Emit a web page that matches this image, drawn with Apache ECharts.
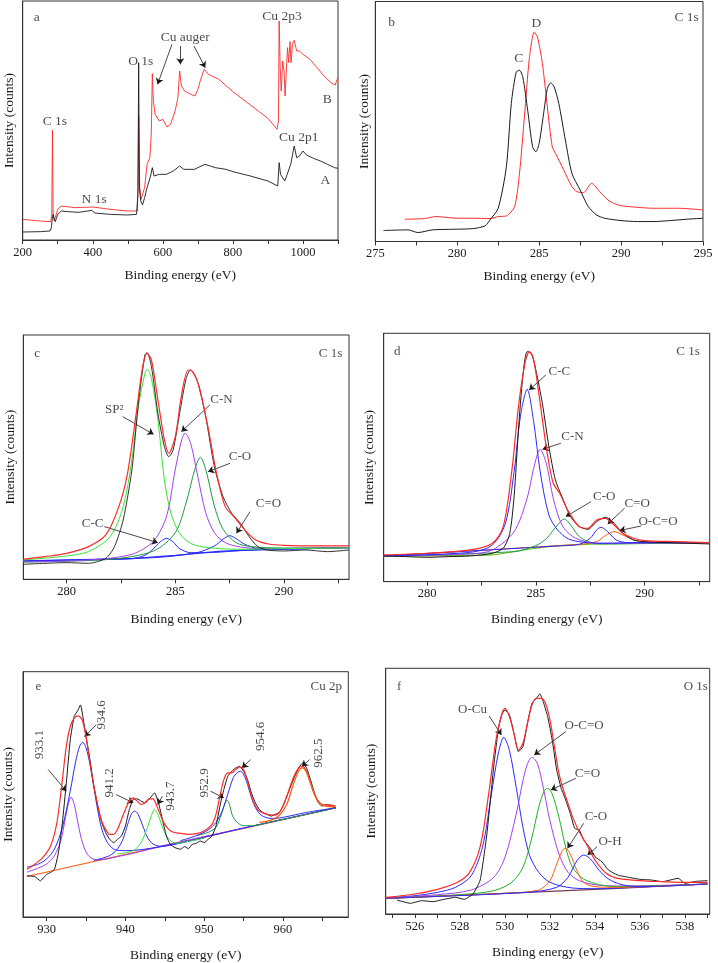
<!DOCTYPE html>
<html><head><meta charset="utf-8">
<script src="https://cdn.jsdelivr.net/npm/echarts@6/dist/echarts.min.js"></script>
<style>html,body{margin:0;padding:0;background:#fff}#c{width:718px;height:963px}</style>
</head><body><div id="c"></div><script>
// ---------- Panel a : survey ----------
const aA = [[200,24],[250,25],[278,27],[282,37],[284,62],[287,77],[290,62],[293,55],[300,77],[310,87],[330,85],[360,83],[398,89],[405,81],[450,77],[500,75],[525,77],[529,137],[531,532],[533,157],[537,117],[542,105],[548,127],[555,157],[565,192],[570,217],[575,192],[590,197],[610,197],[630,207],[648,222],[660,212],[690,212],[720,227],[750,217],[780,212],[800,205],[850,192],[900,177],[928,162],[932,232],[936,197],[940,202],[948,177],[955,197],[965,227],[975,282],[982,247],[990,252],[1000,267],[1010,255],[1030,245],[1050,237],[1070,227],[1090,217],[1100,215]];
const aB = [[200,62],[250,57],[280,55],[283,77],[285,329],[287,77],[290,57],[300,92],[310,102],[350,97],[400,99],[450,92],[500,87],[527,87],[529,157],[531,372],[534,157],[538,122],[543,117],[548,157],[555,227],[563,247],[567,317],[570,499],[573,417],[578,377],[590,357],[600,362],[612,339],[622,347],[635,387],[643,427],[648,507],[653,462],[662,447],[680,437],[692,432],[700,452],[708,482],[718,512],[730,497],[760,482],[800,445],[850,405],[900,365],[926,332],[930,357],[932,657],[935,517],[938,447],[942,537],[946,507],[949,432],[952,497],[956,577],[959,532],[963,595],[966,532],[970,587],[975,599],[982,567],[990,567],[1000,557],[1020,542],[1040,517],[1060,492],[1080,472],[1092,465],[1100,489]];
const aLabels = [['a',240,667],['C 1s',292,357],['N 1s',404,122],['O 1s',537,535],['Cu auger',664,607],['Cu 2p3',940,672],['B',1069,422],['Cu 2p1',988,307],['A',1064,180]];
const aArrows = [[626,587,585,467],[650,582,650,527],[689,582,721,517]];

// ---------- Panel b : C 1s (C, D) ----------
const bC = [[275.5,33],[277,35],[277.6,27],[278.5,35],[280,37],[281,39],[281.7,47],[282,65],[282.5,100],[283,225],[283.3,415],[283.6,510],[283.8,515],[284,495],[284.3,395],[284.6,285],[284.8,270],[285,295],[285.3,395],[285.5,460],[285.7,477],[285.9,467],[286.2,415],[286.6,305],[287,205],[287.5,155],[288,105],[288.5,80],[289,70],[290,63],[291,60],[292,60],[293,63],[294,67],[295,70]];
const bD = [[276.8,67],[278,69],[278.7,75],[280,70],[281,70],[282,69],[282.5,75],[283,77],[283.5,105],[283.8,205],[284.1,375],[284.4,550],[284.7,630],[284.9,615],[285.2,535],[285.5,405],[285.8,285],[286,265],[286.5,215],[287,165],[287.3,150],[287.7,147],[288.2,175],[288.7,150],[289.2,125],[289.8,110],[290.5,105],[292,100],[293.5,100],[295,95]];
const bLabels = [['b',276,660],['C 1s',294,675],['C',283.75,550],['D',284.83,655]];

// ---------- Panel c : C 1s fit ----------
const cRaw = [[278,45],[279,48],[280,50],[281,48],[281.8,63],[282.2,98],[282.6,178],[283,328],[283.3,528],[283.6,673],[283.7,680],[283.9,638],[284.2,498],[284.5,398],[284.7,368],[284.9,388],[285.2,498],[285.5,603],[285.7,628],[286,598],[286.4,488],[286.8,338],[287.2,248],[287.6,198],[288,168],[288.4,128],[288.8,98],[289.2,88],[290,85],[291,88],[292,83],[293,88]];
const cFit = [[278,60],[279,68],[280,78],[281,98],[281.8,133],[282.4,218],[282.8,318],[283.2,498],[283.5,638],[283.7,678],[283.9,658],[284.2,538],[284.5,418],[284.7,378],[285,428],[285.3,558],[285.6,628],[285.8,623],[286.1,578],[286.5,458],[286.9,318],[287.3,218],[287.7,188],[288.2,148],[288.7,118],[289.3,106],[290,102],[291.5,100],[293,100]];
const cBase = [[278,55],[283,62],[285,72],[287,84],[289,90],[293,95]];
const cSp2 = [[278,58],[280,70],[281,83],[282,128],[282.6,218],[283,358],[283.3,518],[283.6,618],[283.7,630],[283.9,603],[284.2,478],[284.5,298],[284.8,198],[285.2,138],[285.7,108],[286.5,95],[288,90],[290,92],[293,94]];
const cCC = [[278,55],[283,62],[283.6,72],[284,92],[284.3,112],[284.6,123],[284.9,112],[285.2,92],[285.7,80],[286.5,80],[288,86],[293,95]];
const cCN = [[278,52],[281,58],[283,75],[284,115],[284.6,190],[285,330],[285.3,420],[285.45,438],[285.7,410],[286,320],[286.4,200],[286.8,140],[287.3,110],[288,97],[289,92],[293,95]];
const cCO = [[278,52],[282,60],[284,85],[285,140],[285.5,230],[285.9,330],[286.15,366],[286.4,330],[286.8,220],[287.2,150],[287.8,110],[288.5,98],[290,94],[293,95]];
const cC2O = [[278,55],[284,65],[286,80],[286.8,100],[287.2,120],[287.5,131],[287.8,122],[288.2,105],[288.8,93],[290,91],[293,95]];
const cLabels = [['c',278.64,678],['C 1s',292.15,678],['SP\u00b2',282.19,510],['C-N',287.13,538],['C-O',287.98,368],['C=O',289.29,228],['C-C',281.19,166]];
const cArrows = [[282.58,488,284.0,435],[286.59,523,285.28,443],[287.52,348,286.51,323],[288.44,203,287.82,138],[281.73,158,284.2,110]];

// ---------- Panel d : C 1s fit ----------
const dRaw = [[278,77],[279,75],[280,73],[281,75],[282,77],[283,85],[283.5,100],[283.8,145],[284,255],[284.2,455],[284.4,615],[284.6,690],[284.8,685],[285,635],[285.3,535],[285.6,405],[285.9,305],[286.2,255],[286.6,195],[287,165],[287.4,157],[287.8,180],[288.2,193],[288.6,175],[289,145],[289.5,125],[290,120],[291,117],[292,115],[293,113]];
const dFit = [[278,80],[280,85],[282,95],[283,115],[283.5,165],[283.9,335],[284.2,525],[284.5,655],[284.7,690],[284.9,665],[285.2,535],[285.5,395],[285.8,295],[286.1,265],[286.5,210],[287,165],[287.4,160],[287.8,185],[288.2,190],[288.6,170],[289,145],[289.5,130],[290,123],[291.5,120],[293,117]];
const dBase = [[278,77],[283,80],[284,90],[285,100],[286,107],[288,113],[293,117]];
const dCC = [[278,77],[282,88],[283,110],[283.6,175],[284,330],[284.3,500],[284.6,577],[284.9,480],[285.2,330],[285.6,200],[286,155],[286.5,128],[287.2,118],[288,115],[290,117],[293,117]];
const dCN = [[278,77],[282,83],[283,95],[284,150],[284.6,250],[284.9,340],[285.2,397],[285.5,350],[285.8,250],[286.2,170],[286.7,135],[287.3,120],[288,115],[293,117]];
const dCO = [[278,77],[284,90],[285,108],[285.5,130],[286,170],[286.3,188],[286.6,170],[287,135],[287.5,118],[288,113],[293,117]];
const dC2O = [[278,77],[286,107],[287,112],[287.5,130],[287.8,155],[288,163],[288.3,150],[288.7,125],[289.2,117],[293,117]];
const dOCO = [[278,77],[287,112],[287.8,120],[288.2,138],[288.6,150],[289,140],[289.5,125],[290,119],[293,117]];
const dLabels = [['d',278.62,690],['C 1s',292,690],['C-C',286.08,630],['C-N',286.69,435],['C-O',288.15,255],['C=O',289.66,235],['O-C=O',290.62,180]];
const dArrows = [[285.46,620,284.69,575],[286.15,415,285.31,397],[287.54,240,286.38,195],[289.08,220,288.31,173],[289.85,167,288.85,153]];

// ---------- Panel e : Cu 2p ----------
const eRaw = [[927.5,124],[928.5,122],[929.2,109],[930,129],[930.5,134],[931,144],[931.5,194],[932,284],[932.5,404],[933,534],[933.5,604],[934,624],[934.3,639],[934.6,604],[935,544],[935.5,474],[936,394],[936.5,334],[937,284],[937.5,254],[938,234],[938.5,224],[939,234],[939.5,244],[940,274],[940.5,324],[941,354],[941.5,356],[942,349],[942.5,344],[943,354],[943.7,374],[944.2,344],[944.7,294],[945.2,244],[945.7,219],[946.3,209],[947,204],[947.5,212],[948,206],[948.5,219],[949,222],[949.5,229],[950,224],[950.5,234],[951,244],[951.5,274],[952,334],[952.5,384],[953,424],[953.5,439],[954,449],[954.5,454],[955,439],[955.5,414],[956,374],[956.5,344],[957,324],[957.5,314],[958,309],[958.5,304],[959,309],[959.5,314],[960,334],[960.5,364],[961,394],[961.5,424],[962,449],[962.5,464],[963,449],[963.5,414],[964,374],[964.5,344],[965,334],[965.5,339],[966,337],[966.7,329]];
const eFit = [[927.5,144],[928.5,159],[929.5,179],[930.5,214],[931.3,284],[932,414],[932.5,514],[933,574],[933.5,599],[934,606],[934.5,594],[935,544],[935.5,464],[936,394],[936.5,334],[937,289],[937.5,264],[938,249],[938.5,249],[939,264],[939.5,294],[940,324],[940.5,349],[941,359],[941.5,349],[942,339],[942.5,344],[943,356],[943.5,356],[944,334],[944.5,304],[945,279],[945.5,264],[946,256],[947,252],[948,249],[949,251],[950,259],[951,279],[951.5,309],[952,364],[952.5,414],[953,434],[953.5,434],[954,444],[954.5,452],[955,444],[955.5,409],[956,364],[956.5,334],[957,319],[958,309],[959,307],[959.5,314],[960,334],[960.5,364],[961,399],[961.5,429],[962,449],[962.5,454],[963,439],[963.5,404],[964,369],[964.5,349],[965,339],[966,337],[966.7,334]];
const eBase = [[927.5,122],[935,162],[945,215],[955,267],[966.7,329]];
const e9331 = [[927.5,135],[929,148],[930,160],[931,185],[931.8,230],[932.4,300],[932.8,345],[933.1,361],[933.5,340],[934,280],[934.6,220],[935.3,185],[936.3,172],[937.5,174],[939,182],[941,192],[945,216],[955,268],[966.7,329]];
const e9346 = [[927.5,150],[929,160],[930,175],[931,205],[932,270],[933,380],[933.7,470],[934.2,515],[934.6,526],[935,510],[935.5,460],[936,390],[936.5,320],[937,265],[937.7,225],[938.5,205],[939.5,200],[940.5,200],[942,203],[944,210],[946,218],[950,240],[955,268],[966.7,329]];
const e9412 = [[936,170],[938,185],[939,205],[939.7,235],[940.3,280],[940.8,312],[941.2,319],[941.6,310],[942.2,275],[942.8,240],[943.5,220],[944.5,213],[946,218],[948,228],[950,238]];
const e9437 = [[939,190],[941,200],[942,225],[942.8,270],[943.3,305],[943.7,324],[944.2,305],[944.8,265],[945.5,235],[946.5,222],[948,228],[950,238]];
const e9529 = [[949,245],[950.5,255],[951.5,270],[952.2,310],[952.6,340],[952.9,352],[953.2,340],[953.6,305],[954.2,285],[955,275],[956,275],[957,278],[958,284],[962,304],[966.7,329]];
const e9546 = [[947,230],[949,245],[950.5,262],[951.5,285],[952.3,320],[953,370],[953.7,420],[954.2,435],[954.6,439],[955,430],[955.5,400],[956,360],[956.5,330],[957,312],[957.5,303],[958.5,297],[959.5,298],[961,305],[963,315],[966.7,329]];
const e9625 = [[957,285],[958.5,292],[959.5,305],[960.5,340],[961.2,390],[961.8,430],[962.2,446],[962.5,449],[962.9,440],[963.4,410],[964,370],[964.6,345],[965.3,335],[966.7,332]];
const eLabels = [['e',928.95,694,0],['Cu 2p',965.5,694,0],['933.1',929.16,519,90],['934.6',936.94,609,90],['941.2',937.99,404,90],['943.7',945.77,364,90],['952.9',950.06,404,90],['954.6',957.21,544,90],['962.5',964.49,494,90]];
const eArrows = [[930.2,444,932.5,379],[936.3,579,934.8,544],[938.8,369,941.0,344],[944.7,364,944.1,339],[950.8,379,952.5,359],[955.9,474,954.8,449],[963.4,474,962.4,454]];

// ---------- Panel f : O 1s ----------
const fRaw = [[525.2,42],[525.8,32],[526.3,40],[526.8,37],[527.3,44],[527.8,50],[528.2,44],[528.6,62],[528.9,102],[529.2,242],[529.5,442],[529.7,552],[529.85,597],[530,612],[530.2,597],[530.4,542],[530.6,487],[530.8,502],[531,572],[531.2,632],[531.4,647],[531.55,660],[531.7,637],[531.9,592],[532.1,522],[532.3,432],[532.5,377],[532.7,342],[532.9,302],[533.1,257],[533.3,252],[533.5,222],[533.8,197],[534,172],[534.3,157],[534.6,132],[535,117],[535.5,110],[536,104],[536.5,102],[537,97],[537.7,107],[538,92],[538.5,98],[539,100]];
const fFit = [[524.7,50],[526,60],[527,74],[527.8,92],[528.4,122],[528.9,202],[529.3,372],[529.6,522],[529.85,597],[530,617],[530.2,592],[530.4,542],[530.6,492],[530.8,512],[531,572],[531.2,627],[531.4,647],[531.6,647],[531.8,632],[532,582],[532.2,502],[532.4,422],[532.6,372],[532.8,332],[533,292],[533.3,247],[533.6,212],[534,162],[534.5,122],[535,107],[536,100],[537,97],[538,95],[539,95]];
const fBase = [[524.7,47],[530,62],[535,77],[539,90]];
const fOCu = [[524.7,48],[526,55],[527,65],[527.8,80],[528.5,115],[529,200],[529.4,360],[529.7,480],[529.95,530],[530.2,490],[530.5,380],[530.8,260],[531.1,175],[531.5,125],[532,95],[533,78],[534,76],[535,78],[537,84],[539,90]];
const fOCO = [[524.7,48],[527,58],[528.5,72],[529.5,110],[530,170],[530.5,300],[530.8,400],[531,450],[531.2,470],[531.45,450],[531.7,380],[532,280],[532.4,180],[532.8,125],[533.3,100],[534,88],[535,84],[537,86],[539,90]];
const fC2O = [[524.7,47],[528,58],[529.5,70],[530.3,95],[530.8,140],[531.2,230],[531.5,320],[531.75,370],[531.9,377],[532.1,360],[532.4,290],[532.7,200],[533,140],[533.5,105],[534.2,88],[535,82],[537,85],[539,90]];
const fCO = [[524.7,47],[530,62],[531.5,72],[532,100],[532.3,150],[532.55,190],[532.7,197],[532.9,180],[533.2,130],[533.5,95],[534,82],[535,80],[539,90]];
const fOH = [[524.7,47],[531,65],[532.3,80],[532.8,110],[533.2,160],[533.5,177],[533.8,165],[534.2,130],[534.6,105],[535.2,88],[536,82],[539,90]];
const fLabels = [['f',525.3,682],['O 1s',538.48,682],['O-Cu',528.56,612],['O-C=O',533.52,564],['C=O',533.67,420],['C-O',534.04,292],['O-H',534.67,217]];
const fArrows = [[529.3,594,529.84,537],[532.7,547,531.3,477],[533.15,407,532.04,372],[533.5,272,532.78,197],[534.1,202,533.67,177]];

// ---------- axes ----------
const ticksA = [200,300,400,500,600,700,800,900,1000,1100], labsA = [200,400,600,800,1000];
const ticksB = [275,277.5,280,282.5,285,287.5,290,292.5,295], labsB = [275,280,285,290,295];
const ticksCD = [280,282.5,285,287.5,290,292.5], labsCD = [280,285,290];
const ticksE = [930,935,940,945,950,955,960,965], labsE = [930,940,950,960];
const ticksF = [525,526,527,528,529,530,531,532,533,534,535,536,537,538,539], labsF = [526,528,530,532,534,536,538];

const FONT = "'Liberation Serif','Times New Roman',serif";
const TXT = '#1a1a1a', AX = '#333';
const RED='#ff2a2a', BLK='#1a1a1a', LGRN='#33e633', PUR='#a040f0', DGRN='#1f9a45', BLU='#2a2aff', ORG='#ff5a10';

const panels = [
  {left:22.7, top:1,   w:315.3, h:239,   xmin:200, xmax:1100, ymax:717, ticks:ticksA, labs:labsA, yGap:6, xGap:28},
  {left:375.3,top:1.5, w:327.7, h:240,   xmin:275, xmax:295,  ymax:722, ticks:ticksB, labs:labsB, yGap:4, xGap:28},
  {left:23.3, top:335, w:325.7, h:244.3, xmin:278, xmax:293,  ymax:733, ticks:ticksCD, labs:labsCD, yGap:6, xGap:33},
  {left:383.7,top:333.3,w:326,  h:248.3, xmin:278, xmax:293,  ymax:745, ticks:ticksCD, labs:labsCD, yGap:7, xGap:31},
  {left:21.2, top:671.7,w:327.1,h:246.3, xmin:927, xmax:968.3,ymax:739, ticks:ticksE, labs:labsE, yGap:8, xGap:31},
  {left:385.7,top:668.3,w:324,  h:245.7, xmin:524.7,xmax:539.1,ymax:737,ticks:ticksF, labs:labsF, yGap:7, xGap:31}
];

const grid=[], xAxis=[], yAxis=[], series=[];
panels.forEach((p,i)=>{
  grid.push({left:p.left, top:p.top, width:p.w, height:p.h, show:true, borderColor:AX, borderWidth:1, containLabel:false});
  xAxis.push({gridIndex:i, type:'value', min:p.xmin, max:p.xmax,
    axisLine:{show:true, onZero:false, lineStyle:{color:AX,width:1}},
    axisTick:{show:true, customValues:p.ticks, length:4, lineStyle:{color:AX}},
    axisLabel:{customValues:p.labs, formatter:v=>String(v), color:TXT, fontFamily:FONT, fontSize:12.5, margin:6},
    splitLine:{show:false},
    name:'Binding energy (eV)', nameLocation:'middle', nameGap:p.xGap,
    nameTextStyle:{fontFamily:FONT, fontSize:13.5, color:TXT}});
  yAxis.push({gridIndex:i, type:'value', min:0, max:p.ymax,
    axisLine:{show:true, lineStyle:{color:AX}}, axisTick:{show:false}, axisLabel:{show:false}, splitLine:{show:false},
    name:'Intensity (counts)', nameLocation:'middle', nameGap:p.yGap,
    nameTextStyle:{fontFamily:FONT, fontSize:13.5, color:TXT}});
});

function line(i, data, color, width, smooth, z){
  series.push({type:'line', xAxisIndex:i, yAxisIndex:i, data:data, showSymbol:false, symbol:'none',
    smooth:smooth, lineStyle:{color:color, width:width}, itemStyle:{color:color}, z:z||2, silent:true, animation:false});
}
function labels(i, labs, arrows, size){
  series.push({type:'scatter', xAxisIndex:i, yAxisIndex:i, symbolSize:0, silent:true, animation:false, z:10,
    data: labs.map(l=>({value:[l[1],l[2]], label:{formatter:l[0], rotate:l[3]||0}})),
    label:{show:true, position:'inside', color:TXT, fontFamily:FONT, fontSize:size||13},
    markLine:{silent:true, animation:false, symbol:['none','arrow'], symbolSize:6, label:{show:false},
      emphasis:{disabled:true},
      lineStyle:{color:TXT, width:0.8, type:'solid'},
      itemStyle:{color:TXT},
      data:(arrows||[]).map(a=>[{coord:[a[0],a[1]]},{coord:[a[2],a[3]]}])}
  });
}

// a
line(0, aA, BLK, 0.9, false, 3);
line(0, aB, RED, 0.9, false, 2);
labels(0, aLabels, aArrows, 13.5);
// b
line(1, bC, BLK, 1, 0.25, 3);
line(1, bD, RED, 1, 0.25, 2);
labels(1, bLabels, [], 13.5);
// c
line(2, cBase, BLU, 1.2, false, 2);
line(2, cCC, BLU, 1, 0.3, 3);
line(2, cC2O, BLU, 1, 0.3, 3);
line(2, cCO, DGRN, 1, 0.3, 3);
line(2, cCN, PUR, 1, 0.3, 3);
line(2, cSp2, LGRN, 1, 0.3, 3);
line(2, cRaw, BLK, 0.9, 0.25, 4);
line(2, cFit, RED, 1.2, 0.3, 5);
labels(2, cLabels, cArrows, 13);
// d
line(3, dBase, '#6abf1e', 1.2, 0.2, 2);
line(3, dOCO, ORG, 1, 0.3, 3);
line(3, dC2O, BLU, 1, 0.3, 3);
line(3, dCO, DGRN, 1, 0.3, 3);
line(3, dCN, PUR, 1, 0.3, 3);
line(3, dCC, BLU, 1, 0.3, 3);
line(3, dRaw, BLK, 1, 0.25, 4);
line(3, dFit, RED, 1.2, 0.3, 5);
labels(3, dLabels, dArrows, 13);
// e
line(4, eBase, ORG, 1.2, false, 2);
line(4, e9331, PUR, 1, 0.3, 3);
line(4, e9346, BLU, 1, 0.3, 3);
line(4, e9412, BLU, 1, 0.3, 3);
line(4, e9437, LGRN, 1, 0.3, 3);
line(4, e9529, DGRN, 1, 0.3, 3);
line(4, e9546, BLU, 1, 0.3, 3);
line(4, eRaw, BLK, 1, 0.15, 4);
line(4, eFit, RED, 1.2, 0.3, 5);
line(4, e9625, ORG, 1.2, 0.3, 6);
labels(4, eLabels, eArrows, 13);
// f
line(5, fBase, '#7a3a5a', 1.2, false, 2);
line(5, fOCu, BLU, 1, 0.3, 3);
line(5, fOCO, PUR, 1, 0.3, 3);
line(5, fC2O, '#20b020', 1, 0.3, 3);
line(5, fCO, ORG, 1, 0.3, 3);
line(5, fOH, BLU, 1, 0.3, 3);
line(5, fRaw, BLK, 1, 0.15, 4);
line(5, fFit, RED, 1.2, 0.3, 5);
labels(5, fLabels, fArrows, 13);

const chart = echarts.init(document.getElementById('c'), null, {renderer:'canvas'});
chart.setOption({animation:false, backgroundColor:'#fff', grid, xAxis, yAxis, series});
</script></body></html>
